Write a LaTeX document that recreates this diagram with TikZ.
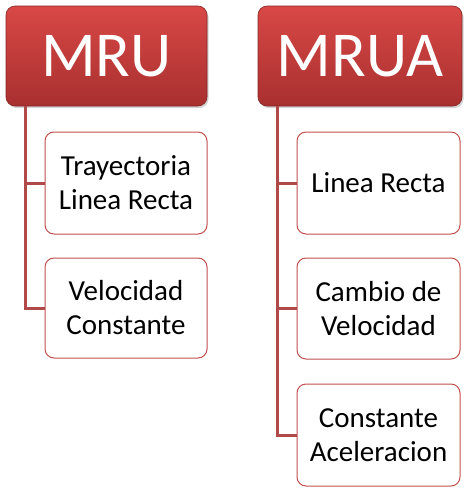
\documentclass[tikz,border=0pt]{standalone}
\usepackage{fontspec}
\setmainfont{Carlito}
\usetikzlibrary{shadows}
\definecolor{hdtop}{HTML}{D84846}
\definecolor{hdbot}{HTML}{A8302F}
\definecolor{linec}{HTML}{B04A48}
\definecolor{childb}{HTML}{C0504D}
\tikzset{
  header/.style={rounded corners=9pt, top color=hdtop, bottom color=hdbot, draw=hdbot!80!black, line width=0.6pt,
    text=white, font=\fontsize{64}{64}\selectfont, inner sep=0pt,
    drop shadow={opacity=0.35, shadow xshift=1.5pt, shadow yshift=-2pt}},
  child/.style={rounded corners=9pt, draw=childb, line width=1pt, fill=white, text=black,
    font=\fontsize{29}{34}\selectfont, align=center, inner sep=0pt},
  conn/.style={draw=linec, line width=3pt}
}
\begin{document}
\begin{tikzpicture}[x=1pt,y=1pt]
\useasboundingbox (0,0) rectangle (470,-493);
% headers
\node[header, minimum width=201pt, minimum height=100pt] (mru) at (106.5,-56) {MRU};
\node[header, minimum width=204pt, minimum height=100pt] (mrua) at (360,-56) {MRUA};
% children MRU
\node[child, minimum width=162pt, minimum height=102pt] (a1) at (126,-183) {Trayectoria\\Linea Recta};
\node[child, minimum width=162pt, minimum height=100pt] (a2) at (126,-308) {Velocidad\\Constante};
% children MRUA
\node[child, minimum width=163pt, minimum height=102pt] (b1) at (378.5,-183) {Linea Recta};
\node[child, minimum width=163pt, minimum height=101pt] (b2) at (378.5,-308.5) {Cambio de\\Velocidad};
\node[child, minimum width=163pt, minimum height=102pt] (b3) at (378.5,-435) {Constante\\Aceleracion};
% connectors
\coordinate (ma) at ([xshift=-81.5pt]mru.south);
\coordinate (mb) at ([xshift=-83pt]mrua.south);
\draw[conn] (ma) |- (a1.west);
\draw[conn] (ma) |- (a2.west);
\draw[conn] (mb) |- (b1.west);
\draw[conn] (mb) |- (b2.west);
\draw[conn] (mb) |- (b3.west);
\end{tikzpicture}
\end{document}
